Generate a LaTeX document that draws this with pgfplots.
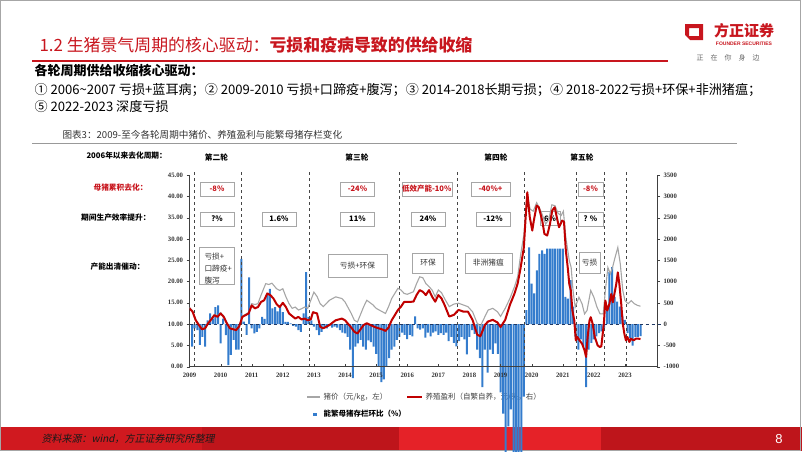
\documentclass[border=0pt]{standalone}
\usepackage{fontspec}
\setmainfont{Liberation Serif}
\newfontfamily\cjk{Noto Sans CJK SC}
\newfontfamily\cjkit{Noto Sans CJK SC}[FakeSlant=0.2]
\newfontfamily\lsans{Liberation Sans}
\usepackage{pgfplots}
\usepackage{pgfplotstable}
\pgfplotsset{compat=1.18}

\definecolor{fzred}{RGB}{200,22,30}
\definecolor{redline}{RGB}{192,0,0}
\definecolor{greyline}{RGB}{166,166,166}
\definecolor{barblue}{RGB}{52,124,205}
\definecolor{basedash}{RGB}{31,56,100}
\definecolor{vdash}{RGB}{70,70,70}

\pgfplotsset{
  base/.style={at={(189.5pt,-366.7pt)}, anchor=south west, scale only axis,
    width=467.5pt, height=191.7pt, xmin=2009, xmax=2024.03},
  ticks/.style={tick align=outside, major tick length=3pt,
    axis line style={black!75, line width=0.6pt}, tick style={black!75},
    ticklabel style={font=\bfseries\fontsize{6.7}{7}\selectfont, text=black!80},
    /pgf/number format/1000 sep={}, /pgf/number format/assume math mode=true},
}

% bars: month index since Jan 2009, value on the right axis scale
\pgfplotstableread[row sep=\\]{
m v\\
1 -530\\ 2 -100\\ 3 -140\\ 4 -490\\ 5 -300\\ 6 -530\\ 7 90\\ 8 250\\ 9 130\\ 10 400\\ 11 440\\ 12 -450\\
13 130\\ 14 -260\\ 15 -960\\ 16 -720\\ 17 -370\\ 18 -600\\ 19 -600\\ 20 1530\\ 21 60\\ 22 -250\\ 23 1100\\ 24 -100\\
25 -220\\ 26 -180\\ 27 -100\\ 28 170\\ 29 120\\ 30 680\\ 31 830\\ 32 370\\ 33 400\\ 34 300\\ 35 400\\ 36 280\\
37 50\\ 38 50\\ 39 16\\ 40 -40\\ 41 -60\\ 42 -140\\ 43 -180\\ 44 250\\ 45 1220\\ 46 170\\ 47 90\\ 48 -60\\
49 -140\\ 50 -260\\ 51 -180\\ 52 -80\\ 53 -100\\ 54 -50\\ 55 -80\\ 56 -60\\ 57 -80\\ 58 -140\\ 59 -200\\ 60 -220\\
61 -300\\ 62 -600\\ 63 -1270\\ 64 -530\\ 65 -450\\ 66 -370\\ 67 -530\\ 68 -600\\ 69 -380\\ 70 -420\\ 71 -530\\ 72 -700\\
73 -1000\\ 74 -1360\\ 75 -1300\\ 76 -1000\\ 77 -800\\ 78 -600\\ 79 -530\\ 80 -370\\ 81 -300\\ 82 -200\\ 83 -250\\ 84 -350\\
85 -250\\ 86 -290\\ 87 180\\ 88 -100\\ 89 -130\\ 90 -100\\ 91 -320\\ 92 -200\\ 93 -290\\ 94 -200\\ 95 -170\\ 96 -250\\
97 -210\\ 98 -250\\ 99 -200\\ 100 -400\\ 101 -300\\ 102 -440\\ 103 -520\\ 104 -400\\ 105 -300\\ 106 -360\\ 107 -710\\ 108 -300\\
109 -140\\ 110 -230\\ 111 -600\\ 112 -800\\ 113 -1480\\ 114 -600\\ 115 -1140\\ 116 -600\\ 117 -700\\ 118 -450\\ 119 -700\\ 120 -1600\\
121 -2100\\ 122 -3100\\ 123 -2400\\ 124 -2000\\ 125 -3100\\ 126 -3100\\ 127 -3100\\ 128 -3100\\ 129 -1700\\ 130 330\\ 131 1800\\ 132 950\\
133 720\\ 134 1260\\ 135 1650\\ 136 1730\\ 137 1650\\ 138 1770\\ 139 1770\\ 140 1770\\ 141 1770\\ 142 1770\\ 143 1770\\ 144 1770\\
145 640\\ 146 600\\ 147 1030\\ 148 410\\ 149 -300\\ 150 -600\\ 151 -360\\ 152 -520\\ 153 -1480\\ 154 -600\\ 155 -440\\ 156 -360\\
157 -290\\ 158 -210\\ 159 -170\\ 160 -90\\ 161 370\\ 162 1225\\ 163 1340\\ 164 640\\ 165 527\\ 166 410\\ 167 200\\ 168 100\\
169 -210\\ 170 -325\\ 171 -504\\ 172 -300\\ 173 -300\\ 174 -280\\
}\sowtable

\begin{document}
\begin{tikzpicture}
\useasboundingbox (0,0) rectangle (802pt,-451pt);
\begin{scope}[x=1pt,y=-1pt]
  % footer band
  \fill[fill={rgb,255:red,208;green,25;blue,31}] (0,427) rectangle (202,451);
  \fill[fill={rgb,255:red,190;green,21;blue,27}] (202,427) rectangle (399,451);
  \fill[fill={rgb,255:red,229;green,34;blue,40}] (399,427) rectangle (601,451);
  \fill[fill={rgb,255:red,190;green,21;blue,27}] (601,427) rectangle (802,451);
  \node[anchor=west, text=black!90, font=\cjkit\fontsize{10}{10}\selectfont] at (38,439) {资料来源：wind，方正证券研究所整理};
  \node[text=white, font=\lsans\fontsize{13}{13}\selectfont] at (779,439) {8};
  \draw[black!35, line width=0.8] (0.5,0.5) rectangle (800,450.5);

  % title and logo
  \node[anchor=west, text=fzred, font=\cjk\fontsize{16.9}{17}\selectfont] at (36,45)
    {1.2 生猪景气周期的核心驱动：\textbf{亏损和疫病导致的供给收缩}};
  \draw[fzred, line width=1.6] (32,61) -- (668,61);
  \fill[fzred, even odd rule] (685,24) -- (703,24) -- (703,40) -- (690,40) -- (685,35) -- cycle
    (689,28) rectangle (699,36);
  \node[text=fzred, font=\cjk\bfseries\fontsize{15}{15}\selectfont] at (744,31) {方正证券};
  \node[text=fzred, font=\lsans\bfseries\fontsize{5}{5}\selectfont] at (744,44) {FOUNDER SECURITIES};
  \node[text=black!60, font=\cjk\fontsize{7}{7}\selectfont] at (728,58) {正\quad 在\quad 你\quad 身\quad 边};

  % bullet text
  \node[anchor=west, font=\cjk\bfseries\fontsize{13}{13}\selectfont] at (31,71) {各轮周期供给收缩核心驱动：};
  \node[anchor=west, font=\cjk\fontsize{13.1}{13}\selectfont] at (31,90)
    {① 2006\textasciitilde 2007 亏损+蓝耳病；② 2009-2010 亏损+口蹄疫+腹泻；③ 2014-2018长期亏损；④ 2018-2022亏损+环保+非洲猪瘟；};
  \node[anchor=west, font=\cjk\fontsize{13.1}{13}\selectfont] at (31,107) {⑤ 2022-2023 深度亏损};
  \node[anchor=west, text=black!80, font=\cjk\fontsize{9.6}{10}\selectfont] at (59,135)
    {图表3：2009-至今各轮周期中猪价、养殖盈利与能繁母猪存栏变化};
  \draw[black!40, line width=0.6] (32,143.3) -- (737,143.3);

  % row labels and round headers
  \begin{scope}[every node/.style={font=\cjk\bfseries\fontsize{7.7}{8}\selectfont}]
    \node[anchor=west] at (83,156) {2006年以来去化周期：};
    \node[anchor=east, text=fzred] at (151,188) {母猪累积去化：};
    \node[anchor=east] at (154,218) {期间生产效率提升：};
    \node[anchor=east] at (148,267) {产能出清催动：};
    \node at (216.5,158) {第二轮};
    \node at (357,158) {第三轮};
    \node at (496,158) {第四轮};
    \node at (582,158) {第五轮};
  \end{scope}

  % value boxes
  \tikzset{vb/.style={draw=black!35, fill=white, line width=0.4, minimum height=14pt,
      minimum width=34pt, inner sep=0pt, font=\cjk\bfseries\fontsize{7.5}{8}\selectfont},
    tb/.style={draw=black!35, fill=white, line width=0.5, inner sep=0pt,
      font=\cjk\fontsize{7.7}{8}\selectfont, text=black!80}}
  \node[vb, text=fzred] at (217,189) {-8\%};
  \node[vb, text=fzred] at (357.5,189) {-24\%};
  \node[vb, text=fzred, minimum width=50pt] at (426.7,189) {低效产能-10\%};
  \node[vb, text=fzred, minimum width=39pt] at (490.5,189) {-40\%+};
  \node[vb, text=fzred, minimum width=25pt] at (590.5,189) {-8\%};
  \node[vb] at (217,219) {?\%};
  \node[vb] at (279,219) {1.6\%};
  \node[vb] at (357.5,219) {11\%};
  \node[vb] at (428,219) {24\%};
  \node[vb] at (493,219) {-12\%};
  \node[vb, minimum width=20pt] at (550,218.5) {6\%};
  \node[vb, minimum width=25pt] at (590.5,219) {? \%};

  \node[tb, minimum width=35pt, minimum height=37pt] at (216.5,265.5) {};
  \node[anchor=west, font=\cjk\fontsize{7.7}{8}\selectfont, text=black!80] at (201,257) {亏损+};
  \node[anchor=west, font=\cjk\fontsize{7.7}{8}\selectfont, text=black!80] at (201,269) {口蹄疫+};
  \node[anchor=west, font=\cjk\fontsize{7.7}{8}\selectfont, text=black!80] at (201,280.5) {腹泻};
  \node[tb, minimum width=59pt, minimum height=23pt] at (357.5,265.5) {亏损+环保};
  \node[tb, minimum width=31pt, minimum height=20pt] at (428,263) {环保};
  \node[tb, minimum width=47pt, minimum height=20pt] at (488.3,263) {非洲猪瘟};
  \node[tb, minimum width=21pt, minimum height=21pt] at (589.5,262.5) {亏损};

  % legend
  \draw[greyline, line width=1.2] (307,397) -- (320,397);
  \node[anchor=west, text=black!75, font=\cjk\fontsize{7.5}{8}\selectfont] at (320,397) {猪价（元/kg，左）};
  \draw[redline, line width=2] (407,397) -- (422,397);
  \node[anchor=west, text=black!75, font=\cjk\fontsize{7.5}{8}\selectfont] at (422,397) {养殖盈利（自繁自养，元/头，右）};
  \fill[barblue] (313,412.5) rectangle (316.5,416);
  \node[anchor=west, font=\cjk\bfseries\fontsize{7.5}{8}\selectfont] at (320,414) {能繁母猪存栏环比（\%）};
\end{scope}

% bars, zero line and round separators (right scale)
\begin{axis}[base, ticks, ymin=-1000, ymax=3500, clip=false,
  axis x line=none, axis y line*=right, ytick={-1000,-500,...,3500}]
\addplot[ybar, bar width=2pt, fill=barblue, draw=none]
  table[x expr=2009+\thisrow{m}/12, y=v] {\sowtable};
\addplot[basedash, dashed, line width=1pt] coordinates {(2009,0) (2024.2,0)};
\foreach \xv in {2009.14,2010.66,2012.84,2015.73,2017.61,2019.75,2021.43,2022.35,2023.04} {
  \edef\tmp{\noexpand\addplot[vdash, dashed, line width=0.6pt] coordinates {(\xv,-1000) (\xv,3560)};}
  \tmp
}
\end{axis}

% hog price (left scale)
\begin{axis}[base, ticks, ymin=0, ymax=45,
  axis x line*=bottom, axis y line*=left, ytick={0,5,...,45},
  xtick={2009,2010,...,2023}, xtick style={yshift=3pt},
  yticklabel style={/pgf/number format/fixed, /pgf/number format/fixed zerofill,
    /pgf/number format/precision=2}]
\addplot[greyline, line width=1.1pt] coordinates {
(2009.0,13.9) (2009.1,13.1) (2009.2,11.1) (2009.3,10.0) (2009.4,9.0) (2009.5,9.2) (2009.6,10.4)
(2009.7,11.3) (2009.8,12.3) (2009.9,11.9) (2010.0,12.7) (2010.1,11.9) (2010.2,10.4) (2010.3,9.2)
(2010.4,9.0) (2010.5,8.8) (2010.6,9.7) (2010.7,11.9) (2010.8,12.3) (2010.9,12.7) (2011.0,14.8)
(2011.1,14.6) (2011.2,14.8) (2011.3,16.8) (2011.45,19.5) (2011.55,19.3) (2011.65,19.6) (2011.8,18.3)
(2011.9,17.9) (2012.0,18.3) (2012.1,16.4) (2012.2,14.8) (2012.3,13.7) (2012.4,14.0) (2012.5,13.3)
(2012.6,13.6) (2012.7,14.0) (2012.8,13.7) (2012.9,15.6) (2013.0,17.5) (2013.1,16.5) (2013.2,14.8)
(2013.3,14.1) (2013.5,15.6) (2013.7,16.4) (2013.9,16.0) (2014.0,15.2) (2014.2,12.5) (2014.3,10.9)
(2014.4,10.5) (2014.6,14.1) (2014.7,15.6) (2014.9,14.5) (2015.0,13.7) (2015.2,12.9) (2015.3,12.5)
(2015.4,14.1) (2015.5,16.0) (2015.6,17.2) (2015.7,18.4) (2015.8,18.0) (2015.9,17.2) (2016.0,17.0)
(2016.2,17.6) (2016.3,19.5) (2016.4,21.1) (2016.5,20.9) (2016.6,19.5) (2016.7,18.8) (2016.8,18.0)
(2016.9,16.4) (2017.0,18.0) (2017.1,17.4) (2017.2,16.0) (2017.35,14.1) (2017.5,14.7) (2017.65,14.9)
(2017.8,14.5) (2017.95,14.1) (2018.1,12.9) (2018.25,10.2) (2018.35,9.5) (2018.5,11.8) (2018.6,13.3)
(2018.75,13.7) (2018.9,12.9) (2019.0,11.8) (2019.15,13.7) (2019.3,16.0) (2019.45,18.8) (2019.55,21.1)
(2019.65,26.5) (2019.75,31.0) (2019.86,40.5) (2019.95,37.0) (2020.05,36.5) (2020.16,38.5) (2020.3,36.5)
(2020.45,33.5) (2020.55,34.5) (2020.65,38.0) (2020.75,37.8) (2020.85,36.0) (2020.95,35.5) (2021.02,36.5)
(2021.1,30.3) (2021.21,24.9) (2021.27,23.3) (2021.33,17.9) (2021.4,14.0) (2021.52,16.3) (2021.62,14.8)
(2021.7,12.4) (2021.78,13.2) (2021.9,17.9) (2022.0,16.3) (2022.1,14.0) (2022.2,12.4) (2022.3,12.4)
(2022.37,17.9) (2022.45,23.3) (2022.53,21.8) (2022.6,23.3) (2022.68,25.6) (2022.77,28.0) (2022.85,24.1)
(2022.93,17.9) (2023.0,15.5) (2023.1,14.8) (2023.2,15.5) (2023.3,14.8) (2023.4,14.4) (2023.5,14.2)
};
\end{axis}

% farming profit (right scale)
\begin{axis}[base, ymin=-1000, ymax=3500, hide axis]
\addplot[redline, line width=2pt, line join=round] coordinates {
(2009.0,370) (2009.1,290) (2009.2,90) (2009.3,-20) (2009.4,-120) (2009.5,-100) (2009.6,20) (2009.7,110)
(2009.8,210) (2009.9,170) (2010.0,250) (2010.1,170) (2010.2,20) (2010.3,-100) (2010.4,-120) (2010.5,-140)
(2010.6,-50) (2010.7,170) (2010.8,210) (2010.9,250) (2011.0,440) (2011.1,370) (2011.2,400) (2011.3,520)
(2011.4,560) (2011.5,720) (2011.6,680) (2011.7,600) (2011.8,470) (2011.9,400) (2012.0,500) (2012.1,400)
(2012.2,250) (2012.3,190) (2012.4,130) (2012.5,170) (2012.6,110) (2012.7,130) (2012.8,90) (2012.9,110)
(2012.97,280) (2013.1,250) (2013.2,-60) (2013.3,-100) (2013.5,-20) (2013.7,90) (2013.9,130) (2014.0,90)
(2014.2,-80) (2014.3,-180) (2014.4,-220) (2014.6,-20) (2014.7,20) (2014.9,-50) (2015.0,-80) (2015.2,-125)
(2015.3,-160) (2015.4,-80) (2015.5,90) (2015.6,210) (2015.7,330) (2015.8,410) (2015.9,520) (2016.0,520)
(2016.2,527) (2016.3,682) (2016.4,798) (2016.5,760) (2016.6,682) (2016.7,798) (2016.8,643) (2016.9,527)
(2017.0,682) (2017.1,605) (2017.2,450) (2017.35,178) (2017.5,217) (2017.65,333) (2017.8,295) (2017.95,295)
(2018.1,100) (2018.25,-248) (2018.35,-287) (2018.5,-16) (2018.6,62) (2018.75,100) (2018.9,39) (2019.0,-70)
(2019.15,100) (2019.3,450) (2019.45,721) (2019.55,953) (2019.64,1300) (2019.75,1805) (2019.8,2430)
(2019.86,3094) (2019.94,2508) (2020.02,2196) (2020.07,2430) (2020.16,2782) (2020.23,2743) (2020.34,2430)
(2020.41,2118) (2020.5,2079) (2020.59,2353) (2020.66,2665) (2020.74,2743) (2020.82,2470) (2020.88,2274)
(2020.98,2430) (2021.04,2400) (2021.1,1720) (2021.16,1330) (2021.21,941) (2021.26,786) (2021.31,319)
(2021.37,86) (2021.42,-381) (2021.47,-303) (2021.54,-381) (2021.62,-459) (2021.7,-615) (2021.75,-770)
(2021.8,-303) (2021.86,86) (2021.9,163) (2021.96,8) (2022.03,-303) (2022.12,-498) (2022.19,-537)
(2022.24,-521) (2022.32,8) (2022.37,552) (2022.43,319) (2022.5,475) (2022.56,708) (2022.61,513)
(2022.66,708) (2022.72,941) (2022.77,1214) (2022.82,941) (2022.88,475) (2022.93,8) (2022.98,-226)
(2023.03,-381) (2023.08,-303) (2023.14,-420) (2023.19,-342) (2023.28,-381) (2023.35,-342) (2023.43,-342)
(2023.5,-350)
};
\end{axis}
\end{tikzpicture}
\end{document}
